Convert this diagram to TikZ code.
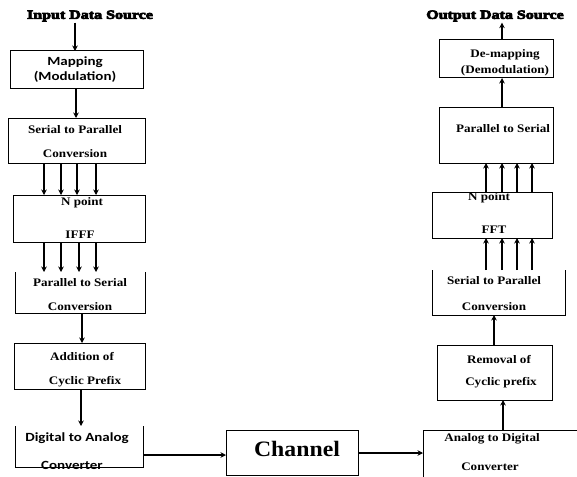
\documentclass[tikz,border=0pt]{standalone}
\usepackage{fontspec}
\usetikzlibrary{arrows.meta}
\newfontfamily\boxfont{Liberation Serif}[FakeStretch=1.14,BoldFeatures={FakeStretch=1.14}]
\newfontfamily\sansbox{Carlito}[FakeStretch=1.2,BoldFeatures={FakeStretch=1.2}]
\newfontfamily\titlefont{Liberation Serif}[FakeStretch=1.28,FakeBold=6,BoldFeatures={FakeStretch=1.28,FakeBold=6}]
\newfontfamily\chanfont{Liberation Serif}[BoldFeatures={FakeStretch=1.08}]
\tikzset{
  box/.style={draw, line width=1pt, inner sep=0pt, outer sep=0pt},
  openbox/.style={inner sep=0pt, outer sep=0pt},
  lbl/.style={inner sep=0pt, font=\boxfont\bfseries\fontsize{11.5}{12}\selectfont},
  slbl/.style={inner sep=0pt, font=\sansbox\bfseries\fontsize{12.5}{13}\selectfont},
  ttl/.style={inner sep=1pt, font=\titlefont\bfseries\fontsize{12.5}{13}\selectfont},
  arr/.style={line width=1.2pt, -{Stealth[length=5.5pt,width=5.5pt]}}
}
\begin{document}
\begin{tikzpicture}[x=1pt,y=-1pt]
\clip (0,0) rectangle (577,476);
\useasboundingbox (0,0) rectangle (577,476);
% titles
\node[ttl] (in) at (90,16) {Input Data Source};
\node[ttl] (out) at (495,16) {Output Data Source};
% left column boxes
\node[box, minimum width=133pt, minimum height=38pt] (map) at (76.5,70) {};
\node[box, minimum width=137pt, minimum height=45pt] (sp1) at (76.5,140.5) {};
\node[box, minimum width=132pt, minimum height=47pt] (ifft) at (79,218.5) {};
\node[openbox, minimum width=130pt, minimum height=41pt] (ps1) at (80,292.5) {};
\draw[line width=1pt] (ps1.north west) -- (ps1.south west) -- (ps1.south east) -- (ps1.north east);
\node[box, minimum width=131pt, minimum height=46pt] (add) at (79.5,366) {};
\node[openbox, minimum width=128pt, minimum height=41pt] (dac) at (79,446.5) {};
\draw[line width=1pt] (dac.north west) -- (dac.south west) -- (dac.south east) -- (dac.north east);
% channel
\node[box, minimum width=132pt, minimum height=45pt] (chan) at (292,452.5) {};
% right column boxes
\node[box, minimum width=162pt, minimum height=55pt] (adc) at (504,457.5) {};
\node[box, minimum width=115pt, minimum height=55pt] (rem) at (494.5,372.5) {};
\node[openbox, minimum width=133pt, minimum height=45pt] (sp2) at (498.5,292.5) {};
\draw[line width=1pt] (sp2.north west) -- (sp2.south west) -- (sp2.south east) -- (sp2.north east);
\node[box, minimum width=120pt, minimum height=46pt] (fft) at (492,215) {};
\node[box, minimum width=114pt, minimum height=56pt] (ps2) at (496,135) {};
\node[box, minimum width=114pt, minimum height=38pt] (demap) at (496,59) {};
% labels left
\node[slbl] (mapa) at (75,62) {Mapping};
\node[slbl] (mapb) at (75,77) {(Modulation)};
\node[lbl] (sp1a) at (75,130) {Serial to Parallel};
\node[lbl] (sp1b) at (75,154) {Conversion};
\node[lbl] (iffta) at (82,203) {N point};
\node[lbl] (ifftb) at (80,235) {IFFF};
\node[lbl] (ps1a) at (80,283) {Parallel to Serial};
\node[lbl] (ps1b) at (80,307) {Conversion};
\node[lbl] (adda) at (82,357) {Addition of};
\node[lbl] (addb) at (85,382) {Cyclic Prefix};
\node[slbl] (daca) at (77,438) {Digital to Analog};
\node[slbl] (dacb) at (72,465) {Converter};
\node[inner sep=0pt, font=\chanfont\bfseries\fontsize{22}{24}\selectfont] (chant) at (297,449) {Channel};
% labels right
\node[lbl] (dema) at (505,55) {De-mapping};
\node[lbl] (demb) at (505,71) {(Demodulation)};
\node[lbl] (ps2a) at (503,129) {Parallel to Serial};
\node[lbl] (ffta) at (489,198) {N point};
\node[lbl] (fftb) at (494,230) {FFT};
\node[lbl] (sp2a) at (494,281) {Serial to Parallel};
\node[lbl] (sp2b) at (494,307) {Conversion};
\node[lbl] (rema) at (499,360) {Removal of};
\node[lbl] (remb) at (501,383) {Cyclic prefix};
\node[lbl] (adca) at (492,439) {Analog to Digital};
\node[lbl] (adcb) at (490,467) {Converter};
% arrows left
\draw[arr] (in.south -| 75,0) -- (map.north -| 75,0);
\draw[arr] (map.south -| 76,0) -- (sp1.north -| 76,0);
\foreach \x in {44,61,77,96} \draw[arr] (sp1.south -| \x,0) -- (ifft.north -| \x,0);
\foreach \x in {44,61,79,96} \draw[arr] (ifft.south -| \x,0) -- (ps1.north -| \x,0);
\draw[arr] (ps1.south -| 82,0) -- (add.north -| 82,0);
\draw[arr] (add.south -| 81,0) -- (dac.north -| 81,0);
\draw[arr] (dac.east |- 0,455) -- (chan.west |- 0,455);
\draw[arr] (chan.east |- 0,453) -- (adc.west |- 0,453);
% arrows right
\draw[arr] (adc.north -| 503,0) -- (rem.south -| 503,0);
\draw[arr] (rem.north -| 494,0) -- (sp2.south -| 494,0);
\foreach \x in {486,502,517,532} \draw[arr] (sp2.north -| \x,0) -- (fft.south -| \x,0);
\foreach \x in {486,502,517,532} \draw[arr] (fft.north -| \x,0) -- (ps2.south -| \x,0);
\draw[arr] (ps2.north -| 502,0) -- (demap.south -| 502,0);
\draw[arr] (demap.north -| 502,0) -- (out.south -| 502,0);
\end{tikzpicture}
\end{document}
